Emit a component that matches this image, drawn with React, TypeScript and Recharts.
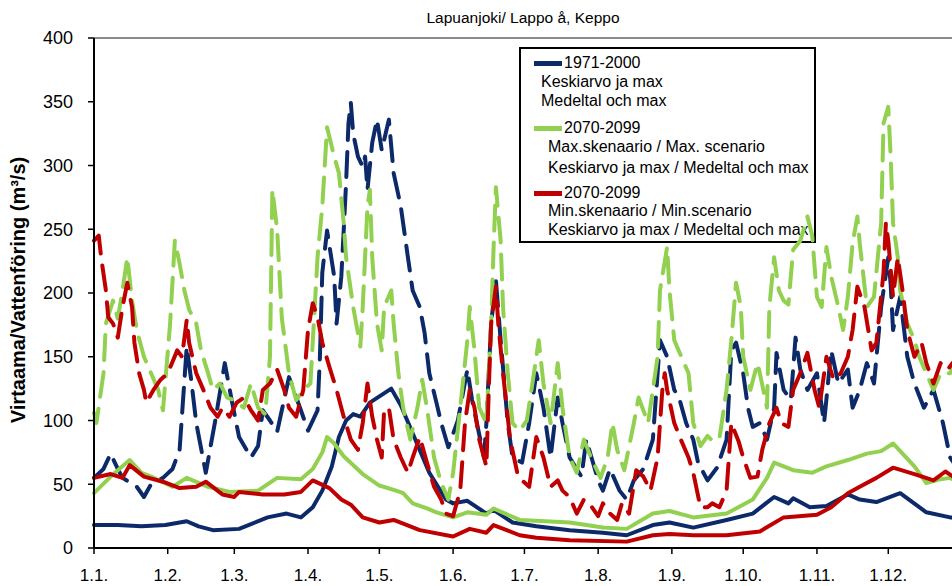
import React from 'react';
import { LineChart, Line, XAxis, YAxis, ReferenceLine } from 'recharts';

// Day of year (0 = 1 January) of the first day of each month, and their labels
const MONTH_DAYS = [0, 31, 59, 90, 120, 151, 181, 212, 243, 273, 304, 334];
const MONTH_LABELS = ['1.1.', '1.2.', '1.3.', '1.4.', '1.5.', '1.6.', '1.7.', '1.8.', '1.9.', '1.10.', '1.11.', '1.12.'];
const Y_TICKS = [0, 50, 100, 150, 200, 250, 300, 350, 400];

type P = [number, number]; // [day of year, discharge m3/s]

// 1971-2000 mean
const BLUE_MEAN: P[] = [[0,18],[10,18],[20,17],[30,18],[39,21],[44,17],[50,14],[61,15],[73,24],[81,27],[87,24],[92,32],[96,45],[100,64],[103,87],[106,100],[109,105],[112,103],[116,114],[125,125],[129,112],[134,90],[141,59],[148,38],[151,35],[157,37],[165,27],[168,30],[176,20],[186,17],[200,14],[214,12],[224,10],[235,18],[242,20],[252,16],[266,22],[277,27],[286,40],[292,35],[294,39],[301,32],[308,33],[317,42],[322,38],[329,36],[339,43],[350,28],[360,24],[365,23]];
// 1971-2000 max
const BLUE_MAX: P[] = [[0,55],[4,62],[7,74],[10,62],[12,55],[18,48],[21,40],[24,50],[29,55],[33,62],[36,77],[39,158],[41,130],[43,98],[47,59],[51,100],[55,145],[58,115],[61,87],[66,71],[69,80],[71,108],[74,100],[77,91],[82,134],[87,108],[90,92],[94,108],[95,150],[96,216],[98,249],[101,213],[102,176],[104,213],[105,249],[106,286],[107,333],[108,349],[109,325],[111,307],[113,299],[114,307],[115,281],[117,318],[119,336],[121,312],[124,336],[126,294],[129,268],[132,228],[134,202],[137,189],[139,169],[141,137],[144,114],[146,98],[149,79],[153,100],[157,140],[159,116],[164,71],[165,98],[167,176],[169,210],[171,163],[174,98],[176,71],[180,67],[183,98],[186,137],[189,110],[192,71],[195,118],[197,98],[200,71],[205,56],[207,85],[212,53],[214,45],[217,62],[221,45],[224,38],[227,53],[231,62],[235,85],[238,163],[241,150],[244,124],[246,118],[249,98],[252,85],[254,67],[258,53],[262,63],[266,85],[268,155],[270,161],[273,137],[275,110],[277,95],[280,98],[283,85],[286,110],[287,153],[290,124],[293,116],[295,165],[297,140],[300,124],[304,137],[307,98],[310,155],[313,129],[317,140],[319,110],[322,124],[325,145],[328,129],[331,189],[334,228],[335,207],[336,171],[339,197],[342,150],[345,129],[349,110],[353,124],[357,98],[360,71],[364,60]];

// 2070-2099 max scenario mean
const GREEN_MEAN: P[] = [[0,43],[7,56],[15,69],[20,59],[24,56],[33,48],[39,55],[48,48],[57,44],[69,45],[77,55],[87,54],[92,62],[96,75],[98,87],[101,82],[105,72],[113,58],[120,49],[127,45],[130,43],[134,35],[140,31],[144,28],[151,24],[157,28],[165,26],[168,31],[179,22],[190,21],[200,20],[214,16],[224,15],[235,27],[242,29],[252,24],[266,27],[277,38],[283,55],[286,67],[294,61],[302,59],[308,64],[317,69],[325,74],[331,76],[336,82],[345,64],[350,51],[356,54],[360,55],[365,50]];
// 2070-2099 max scenario max
const GREEN_MAX: P[] = [[0,106],[1,98],[4,137],[5,176],[8,194],[10,180],[12,202],[14,228],[16,194],[18,171],[21,150],[24,137],[27,124],[29,108],[32,176],[34,241],[36,223],[38,202],[40,187],[43,176],[45,155],[48,137],[50,124],[53,129],[56,118],[59,116],[63,110],[66,129],[69,110],[72,105],[74,150],[75,281],[77,250],[79,180],[82,137],[85,116],[88,124],[91,129],[94,228],[96,268],[98,330],[101,307],[103,294],[105,255],[106,228],[109,189],[112,158],[113,189],[115,268],[116,281],[117,228],[119,176],[121,155],[122,189],[125,202],[126,176],[128,137],[130,110],[133,85],[136,110],[138,132],[140,110],[143,71],[146,51],[149,38],[151,59],[154,110],[157,163],[158,189],[160,155],[162,110],[165,98],[167,176],[168,234],[169,283],[171,241],[172,189],[174,137],[176,98],[179,92],[182,100],[185,137],[187,163],[189,129],[192,98],[195,145],[197,110],[200,71],[203,59],[206,85],[209,71],[213,55],[216,71],[218,98],[220,77],[223,61],[227,98],[229,118],[233,98],[237,150],[238,202],[241,236],[242,202],[244,163],[247,150],[250,137],[252,98],[255,80],[258,88],[260,84],[263,86],[266,124],[268,163],[270,208],[272,189],[273,150],[276,124],[279,145],[280,137],[283,110],[284,189],[286,228],[288,202],[290,194],[292,191],[294,234],[297,241],[300,260],[302,245],[304,197],[306,189],[308,236],[310,213],[313,189],[315,171],[317,197],[319,239],[321,260],[322,239],[325,189],[328,197],[331,255],[332,333],[334,346],[335,307],[336,255],[338,228],[339,202],[342,176],[345,163],[347,150],[350,137],[353,124],[356,137],[360,137],[364,150]];

// 2070-2099 min scenario mean
const RED_MEAN: P[] = [[0,55],[7,58],[12,55],[15,65],[21,56],[29,52],[36,47],[43,48],[47,52],[54,42],[59,40],[61,44],[71,42],[80,42],[87,44],[92,53],[99,47],[104,38],[108,34],[113,24],[120,20],[126,22],[137,14],[151,9],[158,15],[165,12],[168,18],[179,10],[186,8],[200,6],[224,5],[235,10],[242,11],[252,10],[266,10],[280,13],[290,24],[304,26],[310,32],[317,43],[322,48],[329,55],[336,63],[345,58],[353,53],[358,60],[362,55],[365,54]];
// 2070-2099 min scenario max
const RED_MAX: P[] = [[0,241],[2,245],[3,228],[5,202],[6,181],[8,176],[10,165],[12,189],[14,208],[16,189],[17,161],[19,137],[21,124],[22,114],[25,124],[28,132],[31,137],[35,155],[37,150],[39,179],[40,161],[43,137],[46,124],[49,110],[52,103],[54,110],[57,103],[60,114],[63,118],[66,108],[69,100],[71,124],[74,129],[77,140],[80,124],[82,110],[85,103],[88,124],[90,171],[92,192],[94,181],[96,161],[99,142],[102,124],[105,103],[108,85],[111,77],[113,98],[115,129],[117,103],[119,85],[121,71],[122,108],[124,110],[126,85],[129,71],[132,59],[134,71],[137,87],[140,67],[143,48],[146,38],[148,27],[151,25],[154,45],[156,98],[158,124],[160,110],[162,85],[165,64],[166,124],[167,176],[169,205],[170,176],[172,137],[175,85],[178,59],[180,53],[183,48],[186,87],[189,71],[192,48],[195,53],[197,45],[200,40],[203,27],[206,38],[209,33],[212,25],[214,35],[217,27],[220,22],[222,35],[225,27],[228,61],[231,56],[234,45],[237,71],[239,124],[240,137],[241,124],[244,98],[247,84],[250,71],[252,59],[255,32],[258,32],[260,35],[263,32],[266,45],[268,98],[271,84],[273,71],[276,55],[279,56],[281,77],[284,98],[287,110],[289,98],[292,95],[294,124],[297,137],[300,153],[303,124],[305,110],[308,150],[311,132],[314,137],[317,150],[319,171],[321,205],[324,189],[327,155],[329,161],[332,216],[333,255],[334,241],[336,197],[338,228],[340,202],[342,171],[345,150],[348,161],[350,145],[353,129],[356,145],[359,140],[361,145],[364,142]];

const TITLE = 'Lapuanjoki/ Lappo å, Keppo';
const Y_LABEL = 'Virtaama/Vattenföring (m³/s)';

const BLUE = '#0C2A6A';
const GREEN = '#92D050';
const RED = '#C00000';
const FONT = '"Liberation Sans", Arial, Helvetica, sans-serif';

const toRows = (pts: P[]) => pts.map(([day, q]) => ({ day, q }));

const SERIES = [
  { id: 'bmax', pts: BLUE_MAX, color: BLUE, dashed: true },
  { id: 'bmean', pts: BLUE_MEAN, color: BLUE, dashed: false },
  { id: 'gmax', pts: GREEN_MAX, color: GREEN, dashed: true },
  { id: 'gmean', pts: GREEN_MEAN, color: GREEN, dashed: false },
  { id: 'rmax', pts: RED_MAX, color: RED, dashed: true },
  { id: 'rmean', pts: RED_MEAN, color: RED, dashed: false },
];

const LEGEND_ROWS: { text: string; x: number; y: number; color?: string }[] = [
  { text: '1971-2000', x: 564, y: 63, color: BLUE },
  { text: 'Keskiarvo ja max', x: 541, y: 82 },
  { text: 'Medeltal och max', x: 541, y: 101 },
  { text: '2070-2099', x: 564, y: 128, color: GREEN },
  { text: 'Max.skenaario / Max. scenario', x: 548, y: 147 },
  { text: 'Keskiarvo ja max / Medeltal och max', x: 548, y: 168 },
  { text: '2070-2099', x: 564, y: 193, color: RED },
  { text: 'Min.skenaario / Min.scenario', x: 548, y: 211 },
  { text: 'Keskiarvo ja max / Medeltal och max', x: 548, y: 230 },
];

export default function App() {
  return (
    <div style={{ position: 'fixed', left: 0, top: 0, width: 952, height: 586, overflow: 'hidden', background: '#fff', fontFamily: FONT, color: '#000' }}>
      <div style={{ position: 'absolute', left: 523, top: 18, transform: 'translate(-50%, -50%)', fontSize: 15.5, whiteSpace: 'nowrap' }}>{TITLE}</div>

      <div style={{ position: 'absolute', left: 519, top: 47, width: 297, height: 196, border: '2px solid #000', boxSizing: 'border-box' }} />
      {LEGEND_ROWS.map((r, i) => (
        <React.Fragment key={i}>
          {r.color && (
            <div style={{ position: 'absolute', left: 534, top: r.y - 2, width: 28, height: 4.5, background: r.color }} />
          )}
          <div style={{ position: 'absolute', left: r.x, top: r.y - 10, fontSize: 16, lineHeight: '20px', whiteSpace: 'nowrap' }}>{r.text}</div>
        </React.Fragment>
      ))}

      <div style={{ position: 'absolute', left: 18, top: 290, transform: 'translate(-50%, -50%) rotate(-90deg)', fontSize: 20, fontWeight: 'bold', whiteSpace: 'nowrap' }}>{Y_LABEL}</div>

      <div style={{ position: 'absolute', left: 0, top: 0 }}>
        <LineChart width={970} height={586} margin={{ top: 38, right: 8, bottom: 0, left: 0 }}>
          <XAxis
            dataKey="day"
            type="number"
            domain={[0, 365]}
            ticks={MONTH_DAYS}
            interval={0}
            tickFormatter={(v: number) => MONTH_LABELS[MONTH_DAYS.indexOf(v)]}
            height={38}
            tickSize={6}
            tickMargin={15}
            axisLine={{ stroke: '#000', strokeWidth: 2 }}
            tickLine={{ stroke: '#000', strokeWidth: 1.5 }}
            tick={{ fill: '#000', fontSize: 17, fontFamily: FONT }}
            allowDuplicatedCategory={false}
          />
          <YAxis
            type="number"
            domain={[0, 400]}
            ticks={Y_TICKS}
            interval={0}
            width={94}
            tickSize={6}
            tickMargin={15}
            axisLine={{ stroke: '#000', strokeWidth: 2 }}
            tickLine={{ stroke: '#000', strokeWidth: 1.5 }}
            tick={{ fill: '#000', fontSize: 18, fontFamily: FONT }}
          />
          <ReferenceLine y={400} stroke="#8c8c8c" strokeWidth={2} />
          {SERIES.map((s) => (
            <Line
              key={s.id}
              data={toRows(s.pts)}
              dataKey="q"
              type="linear"
              stroke={s.color}
              strokeWidth={4}
              strokeDasharray={s.dashed ? '25 12' : undefined}
              strokeLinecap="round"
              strokeLinejoin="round"
              dot={false}
              activeDot={false}
              isAnimationActive={false}
            />
          ))}
        </LineChart>
      </div>
    </div>
  );
}
